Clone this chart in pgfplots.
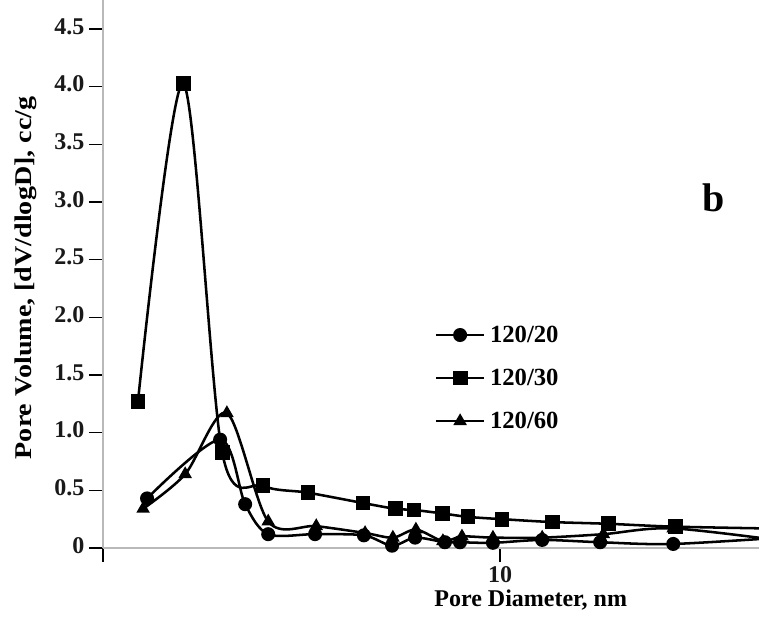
\documentclass[border=0pt]{standalone}
\usepackage{pgfplots}
\pgfplotsset{compat=1.18}
\usepackage{fontspec}
\setmainfont{Liberation Serif}
\begin{document}
\begin{tikzpicture}
\path[use as bounding box] (-77.25pt,-51.75pt) rectangle (492pt,411pt);
\begin{axis}[
  at={(0pt,0pt)}, anchor=south west,
  scale only axis, width=492pt, height=411pt,
  xmin=0, xmax=16.52, ymin=0, ymax=4.753,
  axis x line=bottom, axis y line=left,
  axis line style={gray!55, line width=1.4pt, -},
  tick style={black, line width=1pt},
  major tick length=10.5pt, tick align=outside,
  xtick={0,10}, xticklabels={,\textbf{10}},
  ytick={0,0.5,1,1.5,2,2.5,3,3.5,4,4.5},
  yticklabels={\textbf{0},\textbf{0.5},\textbf{1.0},\textbf{1.5},\textbf{2.0},\textbf{2.5},\textbf{3.0},\textbf{3.5},\textbf{4.0},\textbf{4.5}},
  ticklabel style={font=\fontsize{18}{18}\selectfont\bfseries, text=black!90},
  yticklabel style={yshift=2pt},
  xlabel={\textbf{Pore Diameter, nm}},
  ylabel={\scalebox{1.17}[1]{\textbf{Pore Volume, [dV/dlogD], cc/g}}},
  xlabel style={font=\fontsize{18}{18}\selectfont\bfseries, at={(axis description cs:0.652,0)}, anchor=center, yshift=-39pt},
  ylabel style={font=\fontsize{18}{18}\selectfont\bfseries, at={(axis description cs:-0.1174,0.493)}, anchor=center},
  clip=true,
  legend style={draw=none, fill=none, at={(axis cs:8.35,1.97)}, anchor=north west,
    font=\fontsize{18.5}{18.5}\selectfont\bfseries, row sep=11.5pt, inner sep=0pt,
    nodes={inner sep=3.5pt}},
  legend cell align=left,
  legend image code/.code={\draw[mark repeat=2,mark phase=2,#1] plot coordinates {(0pt,0pt) (18pt,0pt) (36pt,0pt)};},
]
\addplot[black, line width=1.9pt, smooth, tension=0.5, mark=*, mark size=4.3pt, mark options={solid, fill=black}] coordinates {
(1.11,0.43) (2.95,0.94) (3.58,0.38) (4.16,0.12) (5.34,0.12) (6.57,0.11) (7.28,0.02) (7.86,0.09) (8.61,0.05) (8.99,0.05) (9.82,0.045) (11.06,0.07) (12.52,0.05) (14.36,0.035) (17.5,0.10)
};
\addlegendentry{120/20}
\addplot[black, line width=1.9pt, smooth, tension=0.5, mark=square*, mark size=4.6pt, mark options={solid, fill=black}] coordinates {
(0.88,1.27) (2.02,4.03) (3.0,0.83) (4.03,0.54) (5.16,0.48) (6.55,0.39) (7.36,0.34) (7.83,0.33) (8.54,0.30) (9.19,0.27) (10.05,0.25) (11.31,0.225) (12.72,0.21) (14.41,0.185) (17.5,0.165)
};
\addlegendentry{120/30}
\addplot[black, line width=1.9pt, smooth, tension=0.5, mark=triangle*, mark size=4pt, mark options={solid, fill=black}] coordinates {
(1.01,0.34) (2.07,0.64) (3.12,1.17) (4.16,0.23) (5.37,0.19) (6.6,0.13) (7.3,0.09) (7.88,0.16) (8.56,0.06) (9.04,0.10) (9.82,0.09) (11.06,0.09) (12.6,0.12) (14.36,0.17) (17.5,0.045)
};
\addlegendentry{120/60}
\node[font=\fontsize{30}{30}\selectfont\bfseries] at (axis cs:15.37,3.04) {b};
\end{axis}
\end{tikzpicture}
\end{document}
